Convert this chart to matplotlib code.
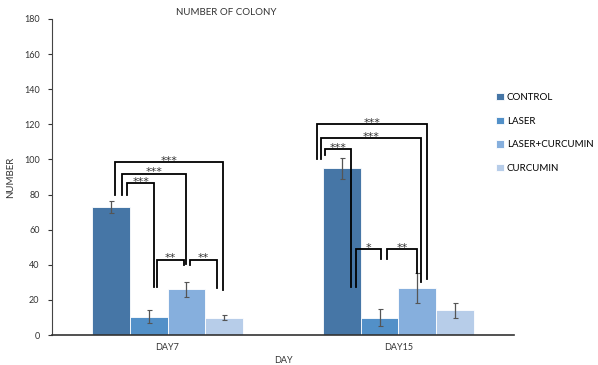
import numpy as np
import matplotlib.pyplot as plt

plt.rcParams['font.family'] = ['Lato', 'DejaVu Sans']

# %% data
days = ['DAY7', 'DAY15']
groups = ['CONTROL', 'LASER', 'LASER+CURCUMIN', 'CURCUMIN']
means = {
    'CONTROL':        [73, 95],
    'LASER':          [10.5, 10],
    'LASER+CURCUMIN': [26, 27],
    'CURCUMIN':       [10, 14],
}
errs = {
    'CONTROL':        [3.5, 6],
    'LASER':          [3.5, 5],
    'LASER+CURCUMIN': [4.5, 8.5],
    'CURCUMIN':       [1.5, 4.5],
}
colors = ['#4676a6', '#5290c8', '#86afdd', '#b7cde9']

# significance brackets: x_left, x_right, y_top, y_left_end, y_right_end, label
brackets = [
    (-0.227, 0.240, 98.5, 80, 25.6, '***'),
    (-0.197, 0.080, 92.0, 80, 40.4, '***'),
    (-0.175, -0.058, 86.5, 80, 27.5, '***'),
    (-0.045, 0.071, 43.0, 27.5, 40.0, '**'),
    (0.097, 0.214, 43.0, 40.0, 27.0, '**'),
    (0.646, 1.122, 120.0, 100, 31.7, '***'),
    (0.665, 1.097, 112.0, 100, 30.4, '***'),
    (0.680, 0.794, 106.0, 102.5, 27.5, '***'),
    (0.816, 0.924, 48.8, 27.5, 43.6, '*'),
    (0.949, 1.080, 48.8, 43.6, 35.5, '**'),
]

# %% plot
fig = plt.figure(figsize=(5.98, 3.65), dpi=100)
ax = fig.add_axes([0.087, 0.082, 0.7725, 0.866])

x = np.arange(len(days))
w = 0.1625
for i, g in enumerate(groups):
    ax.bar(x + (i - 1.5) * w, means[g], w,
           color=colors[i], edgecolor='white', linewidth=0.6,
           yerr=errs[g], error_kw=dict(ecolor='#555555', elinewidth=0.9,
                                       capsize=1.8, capthick=0.8),
           label=g, zorder=2)

for x1, x2, yt, yl, yr, lab in brackets:
    ax.plot([x1, x1, x2, x2], [yl, yt, yt, yr],
            color='black', lw=1.3, solid_joinstyle='miter', zorder=3)
    ax.text((x1 + x2) / 2, yt - 1.0, lab, ha='center', va='baseline',
            fontsize=8, color='#333333', family='DejaVu Sans')

# cosmetics
ax.set_xlim(-0.5, 1.5)
ax.set_ylim(0, 180)
ax.set_yticks(np.arange(0, 181, 20))
ax.set_xticks(x)
ax.set_xticklabels(days)
ax.tick_params(axis='x', length=0, pad=6, labelsize=6.5, colors='#333333')
ax.tick_params(axis='y', length=3, width=0.8, labelsize=6.5,
               colors='#333333', pad=6)
for s in ['top', 'right']:
    ax.spines[s].set_visible(False)
ax.spines['left'].set_color('#444444')
ax.spines['bottom'].set_color('#333333')
ax.spines['bottom'].set_linewidth(1.2)

ax.set_xlabel('DAY', fontsize=6.5, color='#333333')
ax.xaxis.set_label_coords(0.5, -0.066)
ax.set_ylabel('NUMBER', fontsize=7, color='#333333', labelpad=6)
ax.set_title('NUMBER OF COLONY', fontsize=7, color='#333333',
             x=0.377, y=0.985)

ax.legend(loc='upper left', bbox_to_anchor=(0.962, 0.765), frameon=False,
          fontsize=7, handlelength=0.75, handleheight=0.75,
          handletextpad=0.3, labelspacing=1.5, borderpad=0,
          borderaxespad=0)

fig.savefig('out.png', dpi=100)
